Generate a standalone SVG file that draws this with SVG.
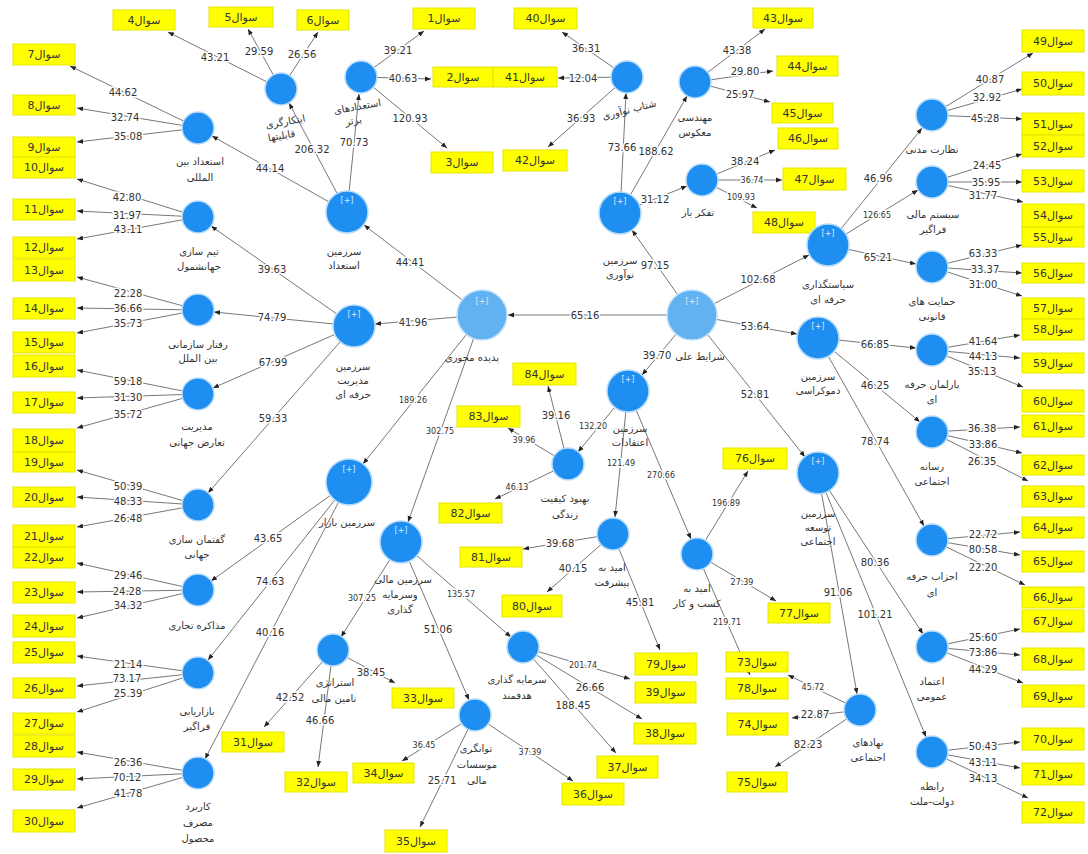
<svg xmlns="http://www.w3.org/2000/svg" width="1088" height="854" viewBox="0 0 1088 854">
<defs>
<marker id="ah" viewBox="0 0 10 10" refX="10" refY="5" markerWidth="6" markerHeight="6" markerUnits="userSpaceOnUse" orient="auto"><path d="M0,1 L10,5 L0,9 z" fill="#222"/></marker>
<style>
.c line{stroke:#777;stroke-width:1;marker-end:url(#ah)}
.v{font-family:"DejaVu Sans",sans-serif;font-size:10px;fill:#333;text-anchor:middle;dominant-baseline:central;paint-order:stroke;stroke:#fff;stroke-width:3px;stroke-linejoin:round}
.vs{font-size:8px}
.bx rect{fill:#ffff00;stroke:#e6e600;stroke-width:1}
.bx text{font-family:"DejaVu Sans",sans-serif;font-size:11px;fill:#333;text-anchor:middle;dominant-baseline:central}
.n{fill:#1e8ff0;stroke:#b6dbfb;stroke-width:1.5}
.nc{fill:#62b1f0;stroke:#c4e2fb;stroke-width:1.5}
.t{font-family:"DejaVu Sans",sans-serif;font-size:10px;fill:#333;text-anchor:middle}
.p{font-family:"DejaVu Sans",sans-serif;font-size:8px;fill:#d6ecff;text-anchor:middle}
</style>
</defs>
<rect width="1088" height="854" fill="#fff"/>
<g id="connectors" class="c">
<line x1="692" y1="315" x2="508" y2="315"/>
<line x1="482" y1="315" x2="375" y2="324"/>
<line x1="482" y1="315" x2="364" y2="225"/>
<line x1="482" y1="315" x2="363" y2="464"/>
<line x1="482" y1="315" x2="408" y2="522"/>
<line x1="692" y1="315" x2="632" y2="230"/>
<line x1="692" y1="315" x2="809" y2="255"/>
<line x1="692" y1="315" x2="797" y2="334"/>
<line x1="692" y1="315" x2="805" y2="457"/>
<line x1="692" y1="315" x2="642" y2="375"/>
<line x1="347" y1="212" x2="359" y2="94"/>
<line x1="347" y1="212" x2="289" y2="103"/>
<line x1="347" y1="212" x2="212" y2="136"/>
<line x1="354" y1="326" x2="211" y2="226"/>
<line x1="354" y1="326" x2="214" y2="312"/>
<line x1="354" y1="326" x2="213" y2="388"/>
<line x1="354" y1="326" x2="208" y2="493"/>
<line x1="349" y1="482" x2="211" y2="581"/>
<line x1="349" y1="482" x2="208" y2="660"/>
<line x1="349" y1="482" x2="205" y2="759"/>
<line x1="401" y1="542" x2="341" y2="637"/>
<line x1="401" y1="542" x2="469" y2="700"/>
<line x1="401" y1="542" x2="511" y2="637"/>
<line x1="628" y1="391" x2="578" y2="452"/>
<line x1="628" y1="391" x2="615" y2="517"/>
<line x1="628" y1="391" x2="691" y2="539"/>
<line x1="620" y1="213" x2="626" y2="93"/>
<line x1="620" y1="213" x2="687" y2="96"/>
<line x1="620" y1="213" x2="687" y2="186"/>
<line x1="828" y1="245" x2="922" y2="128"/>
<line x1="828" y1="245" x2="918" y2="190"/>
<line x1="828" y1="245" x2="916" y2="264"/>
<line x1="818" y1="338" x2="916" y2="348"/>
<line x1="818" y1="338" x2="920" y2="422"/>
<line x1="818" y1="338" x2="924" y2="526"/>
<line x1="818" y1="473" x2="857" y2="694"/>
<line x1="818" y1="473" x2="923" y2="634"/>
<line x1="818" y1="473" x2="926" y2="737"/>
<line x1="198" y1="128" x2="70" y2="66"/>
<line x1="198" y1="128" x2="77" y2="108"/>
<line x1="198" y1="128" x2="77" y2="142"/>
<line x1="198" y1="217" x2="77" y2="179"/>
<line x1="198" y1="217" x2="77" y2="211"/>
<line x1="198" y1="217" x2="77" y2="239"/>
<line x1="198" y1="310" x2="77" y2="277"/>
<line x1="198" y1="310" x2="77" y2="308"/>
<line x1="198" y1="310" x2="77" y2="333"/>
<line x1="198" y1="394" x2="77" y2="370"/>
<line x1="198" y1="394" x2="77" y2="398"/>
<line x1="198" y1="394" x2="77" y2="428"/>
<line x1="198" y1="505" x2="77" y2="470"/>
<line x1="198" y1="505" x2="77" y2="497"/>
<line x1="198" y1="505" x2="77" y2="527"/>
<line x1="198" y1="590" x2="77" y2="563"/>
<line x1="198" y1="590" x2="77" y2="592"/>
<line x1="198" y1="590" x2="77" y2="618"/>
<line x1="198" y1="673" x2="77" y2="656"/>
<line x1="198" y1="673" x2="77" y2="686"/>
<line x1="198" y1="673" x2="77" y2="712"/>
<line x1="198" y1="773" x2="77" y2="752"/>
<line x1="198" y1="773" x2="77" y2="779"/>
<line x1="198" y1="773" x2="77" y2="808"/>
<line x1="281" y1="89" x2="168" y2="32"/>
<line x1="281" y1="89" x2="248" y2="29"/>
<line x1="281" y1="89" x2="318" y2="32"/>
<line x1="361" y1="77" x2="424" y2="31"/>
<line x1="361" y1="77" x2="431" y2="79"/>
<line x1="361" y1="77" x2="447" y2="148"/>
<line x1="627" y1="77" x2="562" y2="32"/>
<line x1="627" y1="77" x2="558" y2="78"/>
<line x1="627" y1="77" x2="548" y2="147"/>
<line x1="695" y1="82" x2="765" y2="29"/>
<line x1="695" y1="82" x2="773" y2="71"/>
<line x1="695" y1="82" x2="770" y2="102"/>
<line x1="702" y1="180" x2="775" y2="150"/>
<line x1="702" y1="180" x2="782" y2="180"/>
<line x1="702" y1="180" x2="757" y2="208"/>
<line x1="932" y1="115" x2="1033" y2="53"/>
<line x1="932" y1="115" x2="1022" y2="89"/>
<line x1="932" y1="115" x2="1022" y2="119"/>
<line x1="932" y1="182" x2="1022" y2="154"/>
<line x1="932" y1="182" x2="1022" y2="182"/>
<line x1="932" y1="182" x2="1023" y2="202"/>
<line x1="932" y1="267" x2="1022" y2="245"/>
<line x1="932" y1="267" x2="1022" y2="273"/>
<line x1="932" y1="267" x2="1022" y2="296"/>
<line x1="932" y1="350" x2="1020" y2="335"/>
<line x1="932" y1="350" x2="1020" y2="358"/>
<line x1="932" y1="350" x2="1023" y2="387"/>
<line x1="932" y1="432" x2="1020" y2="427"/>
<line x1="932" y1="432" x2="1022" y2="453"/>
<line x1="932" y1="432" x2="1028" y2="481"/>
<line x1="932" y1="540" x2="1020" y2="532"/>
<line x1="932" y1="540" x2="1020" y2="555"/>
<line x1="932" y1="540" x2="1025" y2="585"/>
<line x1="932" y1="647" x2="1020" y2="629"/>
<line x1="932" y1="647" x2="1020" y2="655"/>
<line x1="932" y1="647" x2="1023" y2="683"/>
<line x1="932" y1="752" x2="1020" y2="742"/>
<line x1="932" y1="752" x2="1020" y2="768"/>
<line x1="932" y1="752" x2="1028" y2="798"/>
<line x1="860" y1="710" x2="788" y2="675"/>
<line x1="860" y1="710" x2="792" y2="718"/>
<line x1="860" y1="710" x2="775" y2="767"/>
<line x1="697" y1="554" x2="748" y2="471"/>
<line x1="697" y1="554" x2="776" y2="601"/>
<line x1="697" y1="554" x2="750" y2="675"/>
<line x1="613" y1="534" x2="660" y2="650"/>
<line x1="613" y1="534" x2="547" y2="592"/>
<line x1="613" y1="534" x2="523" y2="549"/>
<line x1="568" y1="464" x2="495" y2="499"/>
<line x1="568" y1="464" x2="508" y2="428"/>
<line x1="568" y1="464" x2="548" y2="386"/>
<line x1="333" y1="650" x2="264" y2="727"/>
<line x1="333" y1="650" x2="318" y2="767"/>
<line x1="333" y1="650" x2="395" y2="683"/>
<line x1="475" y1="715" x2="402" y2="761"/>
<line x1="475" y1="715" x2="420" y2="827"/>
<line x1="475" y1="715" x2="573" y2="781"/>
<line x1="523" y1="647" x2="616" y2="753"/>
<line x1="523" y1="647" x2="642" y2="719"/>
<line x1="523" y1="647" x2="630" y2="679"/>
</g>
<g id="boxes" class="bx">
<g id="q1"><rect x="413" y="8" width="62" height="21"/><text x="444" y="18.5">سوال1</text></g>
<g id="q2"><rect x="433" y="67" width="60" height="20"/><text x="463" y="77">سوال2</text></g>
<g id="q3"><rect x="431" y="152" width="62" height="21"/><text x="462" y="162.5">سوال3</text></g>
<g id="q4"><rect x="113" y="10" width="62" height="20"/><text x="144" y="20">سوال4</text></g>
<g id="q5"><rect x="209" y="7" width="64" height="20"/><text x="241" y="17">سوال5</text></g>
<g id="q6"><rect x="297" y="10" width="52" height="20"/><text x="323" y="20">سوال6</text></g>
<g id="q7"><rect x="13" y="44" width="62" height="21"/><text x="44" y="54.5">سوال7</text></g>
<g id="q8"><rect x="13" y="95" width="62" height="20"/><text x="44" y="105">سوال8</text></g>
<g id="q9"><rect x="13" y="137" width="62" height="20"/><text x="44" y="147">سوال9</text></g>
<g id="q10"><rect x="13" y="157" width="62" height="21"/><text x="44" y="167.5">سوال10</text></g>
<g id="q11"><rect x="13" y="199" width="62" height="21"/><text x="44" y="209.5">سوال11</text></g>
<g id="q12"><rect x="13" y="237" width="62" height="21"/><text x="44" y="247.5">سوال12</text></g>
<g id="q13"><rect x="13" y="259" width="62" height="22"/><text x="44" y="270">سوال13</text></g>
<g id="q14"><rect x="13" y="298" width="62" height="21"/><text x="44" y="308.5">سوال14</text></g>
<g id="q15"><rect x="13" y="332" width="62" height="21"/><text x="44" y="342.5">سوال15</text></g>
<g id="q16"><rect x="13" y="355" width="62" height="22"/><text x="44" y="366">سوال16</text></g>
<g id="q17"><rect x="13" y="392" width="62" height="21"/><text x="44" y="402.5">سوال17</text></g>
<g id="q18"><rect x="13" y="429" width="62" height="23"/><text x="44" y="440.5">سوال18</text></g>
<g id="q19"><rect x="13" y="452" width="62" height="20"/><text x="44" y="462">سوال19</text></g>
<g id="q20"><rect x="13" y="487" width="62" height="20"/><text x="44" y="497">سوال20</text></g>
<g id="q21"><rect x="13" y="525" width="62" height="22"/><text x="44" y="536">سوال21</text></g>
<g id="q22"><rect x="13" y="547" width="62" height="21"/><text x="44" y="557.5">سوال22</text></g>
<g id="q23"><rect x="13" y="582" width="62" height="21"/><text x="44" y="592.5">سوال23</text></g>
<g id="q24"><rect x="13" y="615" width="62" height="22"/><text x="44" y="626">سوال24</text></g>
<g id="q25"><rect x="13" y="642" width="62" height="21"/><text x="44" y="652.5">سوال25</text></g>
<g id="q26"><rect x="13" y="678" width="62" height="20"/><text x="44" y="688">سوال26</text></g>
<g id="q27"><rect x="13" y="713" width="62" height="21"/><text x="44" y="723.5">سوال27</text></g>
<g id="q28"><rect x="13" y="735" width="62" height="22"/><text x="44" y="746">سوال28</text></g>
<g id="q29"><rect x="13" y="769" width="62" height="21"/><text x="44" y="779.5">سوال29</text></g>
<g id="q30"><rect x="13" y="810" width="62" height="22"/><text x="44" y="821">سوال30</text></g>
<g id="q31"><rect x="222" y="732" width="62" height="20"/><text x="253" y="742">سوال31</text></g>
<g id="q32"><rect x="285" y="772" width="62" height="20"/><text x="316" y="782">سوال32</text></g>
<g id="q33"><rect x="392" y="688" width="62" height="20"/><text x="423" y="698">سوال33</text></g>
<g id="q34"><rect x="353" y="763" width="61" height="20"/><text x="383.5" y="773">سوال34</text></g>
<g id="q35"><rect x="385" y="830" width="62" height="22"/><text x="416" y="841">سوال35</text></g>
<g id="q36"><rect x="562" y="783" width="62" height="22"/><text x="593" y="794">سوال36</text></g>
<g id="q37"><rect x="597" y="756" width="61" height="22"/><text x="627.5" y="767">سوال37</text></g>
<g id="q38"><rect x="634" y="723" width="62" height="21"/><text x="665" y="733.5">سوال38</text></g>
<g id="q39"><rect x="635" y="682" width="61" height="21"/><text x="665.5" y="692.5">سوال39</text></g>
<g id="q40"><rect x="514" y="8" width="63" height="21"/><text x="545.5" y="18.5">سوال40</text></g>
<g id="q41"><rect x="493" y="67" width="64" height="20"/><text x="525" y="77">سوال41</text></g>
<g id="q42"><rect x="503" y="150" width="64" height="21"/><text x="535" y="160.5">سوال42</text></g>
<g id="q43"><rect x="753" y="8" width="60" height="20"/><text x="783" y="18">سوال43</text></g>
<g id="q44"><rect x="777" y="56" width="61" height="20"/><text x="807.5" y="66">سوال44</text></g>
<g id="q45"><rect x="772" y="103" width="61" height="20"/><text x="802.5" y="113">سوال45</text></g>
<g id="q46"><rect x="778" y="128" width="60" height="21"/><text x="808" y="138.5">سوال46</text></g>
<g id="q47"><rect x="783" y="168" width="63" height="22"/><text x="814.5" y="179">سوال47</text></g>
<g id="q48"><rect x="753" y="212" width="62" height="21"/><text x="784" y="222.5">سوال48</text></g>
<g id="q49"><rect x="1022" y="30" width="62" height="22"/><text x="1053" y="41">سوال49</text></g>
<g id="q50"><rect x="1022" y="72" width="62" height="23"/><text x="1053" y="83.5">سوال50</text></g>
<g id="q51"><rect x="1022" y="113" width="62" height="22"/><text x="1053" y="124">سوال51</text></g>
<g id="q52"><rect x="1022" y="135" width="62" height="22"/><text x="1053" y="146">سوال52</text></g>
<g id="q53"><rect x="1022" y="170" width="62" height="22"/><text x="1053" y="181">سوال53</text></g>
<g id="q54"><rect x="1022" y="204" width="62" height="23"/><text x="1053" y="215.5">سوال54</text></g>
<g id="q55"><rect x="1022" y="227" width="62" height="20"/><text x="1053" y="237">سوال55</text></g>
<g id="q56"><rect x="1022" y="263" width="62" height="20"/><text x="1053" y="273">سوال56</text></g>
<g id="q57"><rect x="1022" y="298" width="62" height="21"/><text x="1053" y="308.5">سوال57</text></g>
<g id="q58"><rect x="1022" y="319" width="62" height="21"/><text x="1053" y="329.5">سوال58</text></g>
<g id="q59"><rect x="1022" y="353" width="62" height="20"/><text x="1053" y="363">سوال59</text></g>
<g id="q60"><rect x="1022" y="390" width="62" height="22"/><text x="1053" y="401">سوال60</text></g>
<g id="q61"><rect x="1022" y="415" width="62" height="22"/><text x="1053" y="426">سوال61</text></g>
<g id="q62"><rect x="1022" y="455" width="62" height="20"/><text x="1053" y="465">سوال62</text></g>
<g id="q63"><rect x="1022" y="486" width="62" height="21"/><text x="1053" y="496.5">سوال63</text></g>
<g id="q64"><rect x="1022" y="517" width="62" height="21"/><text x="1053" y="527.5">سوال64</text></g>
<g id="q65"><rect x="1022" y="551" width="62" height="21"/><text x="1053" y="561.5">سوال65</text></g>
<g id="q66"><rect x="1022" y="587" width="62" height="21"/><text x="1053" y="597.5">سوال66</text></g>
<g id="q67"><rect x="1022" y="610" width="62" height="22"/><text x="1053" y="621">سوال67</text></g>
<g id="q68"><rect x="1022" y="648" width="62" height="22"/><text x="1053" y="659">سوال68</text></g>
<g id="q69"><rect x="1022" y="685" width="62" height="22"/><text x="1053" y="696">سوال69</text></g>
<g id="q70"><rect x="1022" y="728" width="62" height="22"/><text x="1053" y="739">سوال70</text></g>
<g id="q71"><rect x="1022" y="763" width="62" height="22"/><text x="1053" y="774">سوال71</text></g>
<g id="q72"><rect x="1022" y="802" width="62" height="21"/><text x="1053" y="812.5">سوال72</text></g>
<g id="q73"><rect x="726" y="652" width="62" height="20"/><text x="757" y="662">سوال73</text></g>
<g id="q74"><rect x="727" y="713" width="61" height="22"/><text x="757.5" y="724">سوال74</text></g>
<g id="q75"><rect x="727" y="772" width="60" height="20"/><text x="757" y="782">سوال75</text></g>
<g id="q76"><rect x="723" y="448" width="64" height="21"/><text x="755" y="458.5">سوال76</text></g>
<g id="q77"><rect x="768" y="603" width="62" height="20"/><text x="799" y="613">سوال77</text></g>
<g id="q78"><rect x="726" y="678" width="62" height="21"/><text x="757" y="688.5">سوال78</text></g>
<g id="q79"><rect x="635" y="653" width="62" height="22"/><text x="666" y="664">سوال79</text></g>
<g id="q80"><rect x="502" y="595" width="60" height="22"/><text x="532" y="606">سوال80</text></g>
<g id="q81"><rect x="460" y="547" width="62" height="20"/><text x="491" y="557">سوال81</text></g>
<g id="q82"><rect x="439" y="503" width="63" height="20"/><text x="470.5" y="513">سوال82</text></g>
<g id="q83"><rect x="457" y="406" width="63" height="21"/><text x="488.5" y="416.5">سوال83</text></g>
<g id="q84"><rect x="513" y="363" width="63" height="22"/><text x="544.5" y="374">سوال84</text></g>
</g>
<g id="loadings">
<text class="v" x="585" y="315">65.16</text>
<text class="v" x="413" y="322">41.96</text>
<text class="v" x="410" y="262">44.41</text>
<text class="v vs" x="413" y="400">189.26</text>
<text class="v vs" x="440" y="431">302.75</text>
<text class="v" x="655" y="265">97.15</text>
<text class="v" x="758" y="279">102.68</text>
<text class="v" x="755" y="326">53.64</text>
<text class="v" x="755" y="394">52.81</text>
<text class="v" x="657" y="355">39.70</text>
<text class="v" x="354" y="142">70.73</text>
<text class="v" x="312" y="149">206.32</text>
<text class="v" x="270" y="168">44.14</text>
<text class="v" x="272" y="269">39.63</text>
<text class="v" x="272" y="317">74.79</text>
<text class="v" x="273" y="362">67.99</text>
<text class="v" x="273" y="418">59.33</text>
<text class="v" x="268" y="538">43.65</text>
<text class="v" x="270" y="581">74.63</text>
<text class="v" x="270" y="632">40.16</text>
<text class="v vs" x="362" y="598">307.25</text>
<text class="v" x="438" y="629">51.06</text>
<text class="v vs" x="461" y="594">135.57</text>
<text class="v vs" x="593" y="426">132.20</text>
<text class="v vs" x="621" y="463">121.49</text>
<text class="v vs" x="661" y="475">270.66</text>
<text class="v" x="622" y="147">73.66</text>
<text class="v" x="656" y="151">188.62</text>
<text class="v" x="655" y="199">31.12</text>
<text class="v" x="878" y="178">46.96</text>
<text class="v vs" x="877" y="215">126.65</text>
<text class="v" x="878" y="257">65.21</text>
<text class="v" x="875" y="344">66.85</text>
<text class="v" x="875" y="385">46.25</text>
<text class="v" x="875" y="441">78.74</text>
<text class="v" x="838" y="592">91.06</text>
<text class="v" x="875" y="562">80.36</text>
<text class="v" x="875" y="614">101.21</text>
<text class="v" x="123" y="92">44.62</text>
<text class="v" x="125" y="117">32.74</text>
<text class="v" x="128" y="136">35.08</text>
<text class="v" x="127" y="197">42.80</text>
<text class="v" x="127" y="215">31.97</text>
<text class="v" x="128" y="229">43.11</text>
<text class="v" x="128" y="293">22.28</text>
<text class="v" x="128" y="308">36.66</text>
<text class="v" x="128" y="323">35.73</text>
<text class="v" x="128" y="381">59.18</text>
<text class="v" x="128" y="397">31.30</text>
<text class="v" x="128" y="414">35.72</text>
<text class="v" x="128" y="486">50.39</text>
<text class="v" x="128" y="501">48.33</text>
<text class="v" x="128" y="518">26.48</text>
<text class="v" x="128" y="575">29.46</text>
<text class="v" x="127" y="591">24.28</text>
<text class="v" x="128" y="605">34.32</text>
<text class="v" x="128" y="664">21.14</text>
<text class="v" x="127" y="678">73.17</text>
<text class="v" x="128" y="693">25.39</text>
<text class="v" x="128" y="762">26.36</text>
<text class="v" x="127" y="777">70.12</text>
<text class="v" x="128" y="793">41.78</text>
<text class="v" x="215" y="57">43.21</text>
<text class="v" x="259" y="51">29.59</text>
<text class="v" x="302" y="54">26.56</text>
<text class="v" x="398" y="50">39.21</text>
<text class="v" x="403" y="78">40.63</text>
<text class="v" x="410" y="118">120.93</text>
<text class="v" x="586" y="48">36.31</text>
<text class="v" x="583" y="78">12.04</text>
<text class="v" x="581" y="118">36.93</text>
<text class="v" x="737" y="50">43.38</text>
<text class="v" x="745" y="71">29.80</text>
<text class="v" x="740" y="94">25.97</text>
<text class="v" x="745" y="161">38.24</text>
<text class="v vs" x="752" y="180">36.74</text>
<text class="v vs" x="741" y="197">109.93</text>
<text class="v" x="990" y="79">40.87</text>
<text class="v" x="987" y="97">32.92</text>
<text class="v" x="985" y="118">45.28</text>
<text class="v" x="987" y="165">24.45</text>
<text class="v" x="986" y="182">35.95</text>
<text class="v" x="983" y="195">31.77</text>
<text class="v" x="983" y="253">63.33</text>
<text class="v" x="985" y="269">33.37</text>
<text class="v" x="983" y="284">31.00</text>
<text class="v" x="983" y="341">41.64</text>
<text class="v" x="983" y="356">44.13</text>
<text class="v" x="982" y="371">35.13</text>
<text class="v" x="982" y="428">36.38</text>
<text class="v" x="983" y="444">33.86</text>
<text class="v" x="982" y="461">26.35</text>
<text class="v" x="983" y="534">22.72</text>
<text class="v" x="983" y="549">80.58</text>
<text class="v" x="983" y="567">22.20</text>
<text class="v" x="983" y="637">25.60</text>
<text class="v" x="983" y="652">73.86</text>
<text class="v" x="983" y="669">44.29</text>
<text class="v" x="983" y="746">50.43</text>
<text class="v" x="983" y="762">43.11</text>
<text class="v" x="983" y="778">34.13</text>
<text class="v vs" x="813" y="687">45.72</text>
<text class="v" x="815" y="714">22.87</text>
<text class="v" x="808" y="744">82.23</text>
<text class="v vs" x="726" y="503">196.89</text>
<text class="v vs" x="742" y="582">27.39</text>
<text class="v vs" x="727" y="622">219.71</text>
<text class="v" x="640" y="602">45.81</text>
<text class="v" x="573" y="568">40.15</text>
<text class="v" x="560" y="543">39.68</text>
<text class="v vs" x="517" y="487">46.13</text>
<text class="v vs" x="524" y="440">39.96</text>
<text class="v" x="556" y="415">39.16</text>
<text class="v" x="290" y="697">42.52</text>
<text class="v" x="320" y="720">46.66</text>
<text class="v" x="371" y="672">38.45</text>
<text class="v vs" x="424" y="745">36.45</text>
<text class="v" x="442" y="780">25.71</text>
<text class="v vs" x="530" y="752">37.39</text>
<text class="v" x="573" y="705">188.45</text>
<text class="v" x="590" y="687">26.66</text>
<text class="v vs" x="583" y="665">201.74</text>
</g>
<g id="n-pd"><circle class="nc" cx="482" cy="315" r="25"/><text class="p" x="482" y="304">[+]</text><text class="t" x="472" y="361">پدیده محوری</text></g>
<g id="n-sa"><circle class="nc" cx="692" cy="315" r="25"/><text class="p" x="692" y="304">[+]</text><text class="t" x="700" y="360">شرایط علی</text></g>
<g id="n-t"><circle class="n" cx="347" cy="212" r="21"/><text class="p" x="347" y="203">[+]</text><text class="t" x="344" y="255">سرزمین</text><text class="t" x="344" y="269">استعداد</text></g>
<g id="n-m"><circle class="n" cx="354" cy="326" r="21"/><text class="p" x="354" y="317">[+]</text><text class="t" x="353" y="370">سرزمین</text><text class="t" x="353" y="384">مدیریت</text><text class="t" x="353" y="398">حرفه ای</text></g>
<g id="n-b"><circle class="n" cx="349" cy="482" r="23"/><text class="p" x="349" y="472">[+]</text><text class="t" x="347" y="526">سرزمین بازار</text></g>
<g id="n-f"><circle class="n" cx="401" cy="542" r="21"/><text class="p" x="401" y="533">[+]</text><text class="t" x="403" y="583">سرزمین مالی</text><text class="t" x="400" y="598">وسرمایه</text><text class="t" x="400" y="613">گذاری</text></g>
<g id="n-e"><circle class="n" cx="628" cy="391" r="21"/><text class="p" x="628" y="382">[+]</text><text class="t" x="630" y="432">سرزمین</text><text class="t" x="630" y="446">اعتقادات</text></g>
<g id="n-n"><circle class="n" cx="620" cy="213" r="21"/><text class="p" x="620" y="204">[+]</text><text class="t" x="620" y="264">سرزمین</text><text class="t" x="620" y="278">نوآوری</text></g>
<g id="n-s"><circle class="n" cx="828" cy="245" r="21"/><text class="p" x="828" y="236">[+]</text><text class="t" x="828" y="288">سیاستگذاری</text><text class="t" x="828" y="303">حرفه ای</text></g>
<g id="n-d"><circle class="n" cx="818" cy="338" r="21"/><text class="p" x="818" y="329">[+]</text><text class="t" x="818" y="380">سرزمین</text><text class="t" x="818" y="394">دموکراسی</text></g>
<g id="n-sd"><circle class="n" cx="818" cy="473" r="21"/><text class="p" x="818" y="464">[+]</text><text class="t" x="818" y="517">سرزمین</text><text class="t" x="818" y="531">توسعه</text><text class="t" x="818" y="545">اجتماعی</text></g>
<g id="n-t1"><circle class="n" cx="361" cy="77" r="16"/><text class="t" x="358" y="110" transform="rotate(-10 358 110)">استعدادهای</text><text class="t" x="354" y="124" transform="rotate(-10 354 124)">برتر</text></g>
<g id="n-t2"><circle class="n" cx="281" cy="89" r="16"/><text class="t" x="286" y="125" transform="rotate(-10 286 125)">ابتکارگری</text><text class="t" x="282" y="139" transform="rotate(-10 282 139)">قابلیتها</text></g>
<g id="n-t3"><circle class="n" cx="198" cy="128" r="16"/><text class="t" x="200" y="165">استعداد بین</text><text class="t" x="200" y="181">المللی</text></g>
<g id="n-m1"><circle class="n" cx="198" cy="217" r="16"/><text class="t" x="199" y="255">تیم سازی</text><text class="t" x="199" y="270">جهانشمول</text></g>
<g id="n-m2"><circle class="n" cx="198" cy="310" r="16"/><text class="t" x="198" y="348">رفتار سازمانی</text><text class="t" x="198" y="362">بین الملل</text></g>
<g id="n-m3"><circle class="n" cx="198" cy="394" r="16"/><text class="t" x="197" y="430">مدیریت</text><text class="t" x="197" y="446">تعارض جهانی</text></g>
<g id="n-m4"><circle class="n" cx="198" cy="505" r="16"/><text class="t" x="197" y="543">گفتمان سازی</text><text class="t" x="197" y="558">جهانی</text></g>
<g id="n-b1"><circle class="n" cx="198" cy="590" r="16"/><text class="t" x="197" y="629">مذاکره تجاری</text></g>
<g id="n-b2"><circle class="n" cx="198" cy="673" r="16"/><text class="t" x="197" y="715">بازاریابی</text><text class="t" x="197" y="730">فراگیر</text></g>
<g id="n-b3"><circle class="n" cx="198" cy="773" r="16"/><text class="t" x="198" y="810">کاربرد</text><text class="t" x="198" y="826">مصرف</text><text class="t" x="198" y="842">محصول</text></g>
<g id="n-f1"><circle class="n" cx="333" cy="650" r="16"/><text class="t" x="335" y="686">استراتژی</text><text class="t" x="334" y="702">تامین مالی</text></g>
<g id="n-f2"><circle class="n" cx="475" cy="715" r="16"/><text class="t" x="476" y="752">توانگری</text><text class="t" x="477" y="768">موسسات</text><text class="t" x="477" y="784">مالی</text></g>
<g id="n-f3"><circle class="n" cx="523" cy="647" r="16"/><text class="t" x="517" y="683">سرمایه گذاری</text><text class="t" x="517" y="699">هدفمند</text></g>
<g id="n-e1"><circle class="n" cx="568" cy="464" r="16"/><text class="t" x="565" y="502">بهبود کیفیت</text><text class="t" x="565" y="518">زندگی</text></g>
<g id="n-e2"><circle class="n" cx="613" cy="534" r="16"/><text class="t" x="612" y="571">امید به</text><text class="t" x="612" y="586">پیشرفت</text></g>
<g id="n-e3"><circle class="n" cx="697" cy="554" r="16"/><text class="t" x="697" y="592">امید به</text><text class="t" x="697" y="607">کسب و کار</text></g>
<g id="n-n1"><circle class="n" cx="627" cy="77" r="16"/><text class="t" x="630" y="113" transform="rotate(-14 630 113)">شتاب نوآوری</text></g>
<g id="n-n2"><circle class="n" cx="695" cy="82" r="16"/><text class="t" x="695" y="121">مهندسی</text><text class="t" x="695" y="136">معکوس</text></g>
<g id="n-n3"><circle class="n" cx="702" cy="180" r="16"/><text class="t" x="698" y="216">تفکر باز</text></g>
<g id="n-s1"><circle class="n" cx="932" cy="115" r="16"/><text class="t" x="932" y="153">نظارت مدنی</text></g>
<g id="n-s2"><circle class="n" cx="932" cy="182" r="16"/><text class="t" x="933" y="218">سیستم مالی</text><text class="t" x="933" y="233">فراگیر</text></g>
<g id="n-s3"><circle class="n" cx="932" cy="267" r="16"/><text class="t" x="932" y="305">حمایت های</text><text class="t" x="932" y="320">قانونی</text></g>
<g id="n-d1"><circle class="n" cx="932" cy="350" r="16"/><text class="t" x="932" y="388">پارلمان حرفه</text><text class="t" x="932" y="403">ای</text></g>
<g id="n-d2"><circle class="n" cx="932" cy="432" r="16"/><text class="t" x="932" y="470">رسانه</text><text class="t" x="932" y="485">اجتماعی</text></g>
<g id="n-d3"><circle class="n" cx="932" cy="540" r="16"/><text class="t" x="932" y="580">احزاب حرفه</text><text class="t" x="932" y="596">ای</text></g>
<g id="n-sd1"><circle class="n" cx="860" cy="710" r="16"/><text class="t" x="868" y="746">نهادهای</text><text class="t" x="868" y="761">اجتماعی</text></g>
<g id="n-sd2"><circle class="n" cx="932" cy="647" r="16"/><text class="t" x="932" y="685">اعتماد</text><text class="t" x="932" y="700">عمومی</text></g>
<g id="n-sd3"><circle class="n" cx="932" cy="752" r="16"/><text class="t" x="932" y="790">رابطه</text><text class="t" x="932" y="805">دولت-ملت</text></g>
</svg>
